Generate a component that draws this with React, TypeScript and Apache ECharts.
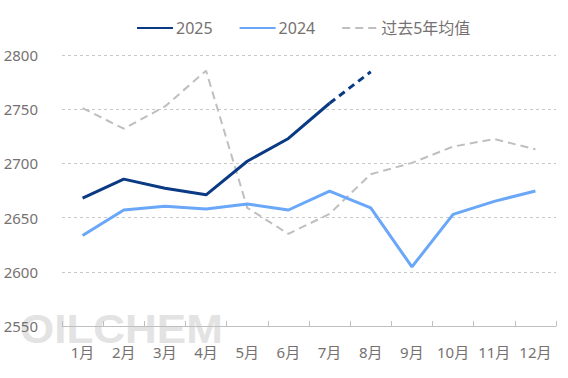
import React, { useEffect, useRef } from "react";
import * as echarts from "echarts";

const months = ["1月", "2月", "3月", "4月", "5月", "6月", "7月", "8月", "9月", "10月", "11月", "12月"];
const s2025 = [2668, 2685.5, 2677, 2671, 2702, 2723, 2755.5, null, null, null, null, null];
const s2025f = [null, null, null, null, null, null, 2755.5, 2784.5, null, null, null, null];
const s2024 = [2633.5, 2657, 2660.5, 2658, 2662.5, 2657, 2674.5, 2659, 2604.5, 2653, 2665, 2674.5];
const avg5 = [2751, 2732, 2752.5, 2785.5, 2659, 2635, 2653.5, 2690, 2700.5, 2715.5, 2722.5, 2713];
const legendNames = ["2025", "2024", "过去5年均值"];

const FONT = "'Noto Sans', 'Noto Sans CJK SC', sans-serif";
const TXT = "#767171";

export default function App() {
  const ref = useRef<HTMLDivElement>(null);
  useEffect(() => {
    if (!ref.current) return;
    const chart = echarts.init(ref.current, null, { renderer: "svg" });
    chart.setOption({
      animation: false,
      textStyle: { fontFamily: FONT },
      graphic: [
        {
          type: "text",
          left: 20,
          top: 309,
          z: -10,
          silent: true,
          scaleX: 1.1,
          style: {
            text: "OILCHEM",
            font: "bold 40px 'Liberation Sans', Arial, sans-serif",
            fill: "#e3e3e3",
          },
        },
      ],
      legend: {
        data: legendNames,
        left: 136,
        top: 20,
        padding: 0,
        itemWidth: 36,
        itemHeight: 14,
        itemGap: 26,
        itemStyle: { color: "rgba(0,0,0,0)", borderWidth: 0, opacity: 0 },
        textStyle: { color: TXT, fontSize: 16, fontFamily: FONT, padding: [0, 0, 0, -2] },
      },
      grid: { left: 62, right: 12, top: 55, bottom: 52, containLabel: false },
      xAxis: {
        type: "category",
        data: months,
        boundaryGap: true,
        axisLine: { lineStyle: { color: "#bfbfbf", width: 1 } },
        axisTick: { show: true, inside: true, length: 5, interval: 0, lineStyle: { color: "#bfbfbf" } },
        axisLabel: { color: TXT, fontSize: 15, margin: 18, interval: 0, fontFamily: FONT },
      },
      yAxis: {
        type: "value",
        min: 2550,
        max: 2800,
        interval: 50,
        axisLine: { show: false },
        axisTick: { show: false },
        axisLabel: {
          color: TXT,
          fontSize: 15,
          margin: 24,
          fontFamily: FONT,
          formatter: (v: number) => String(v),
        },
        splitLine: { lineStyle: { color: "#c8c8c8", type: [3, 3], width: 1 } },
      },
      series: [
        {
          name: "2025",
          type: "line",
          data: s2025,
          symbol: "none",
          lineStyle: { color: "#0b3a84", width: 3 },
          itemStyle: { color: "#0b3a84" },
          z: 4,
        },
        {
          name: "2025预测",
          type: "line",
          data: s2025f,
          symbol: "none",
          lineStyle: { color: "#0b3a84", width: 3, type: [7, 5] },
          itemStyle: { color: "#0b3a84" },
          z: 4,
        },
        {
          name: "2024",
          type: "line",
          data: s2024,
          symbol: "none",
          lineStyle: { color: "#6aa7f8", width: 3 },
          itemStyle: { color: "#6aa7f8" },
          z: 3,
        },
        {
          name: "过去5年均值",
          type: "line",
          data: avg5,
          symbol: "none",
          lineStyle: { color: "#bfbfbf", width: 2, type: [8, 5] },
          itemStyle: { color: "#bfbfbf" },
          z: 2,
        },
      ],
    });
    return () => chart.dispose();
  }, []);
  return <div ref={ref} style={{ width: 568, height: 378, position: "absolute", left: 0, top: 0 }} />;
}
